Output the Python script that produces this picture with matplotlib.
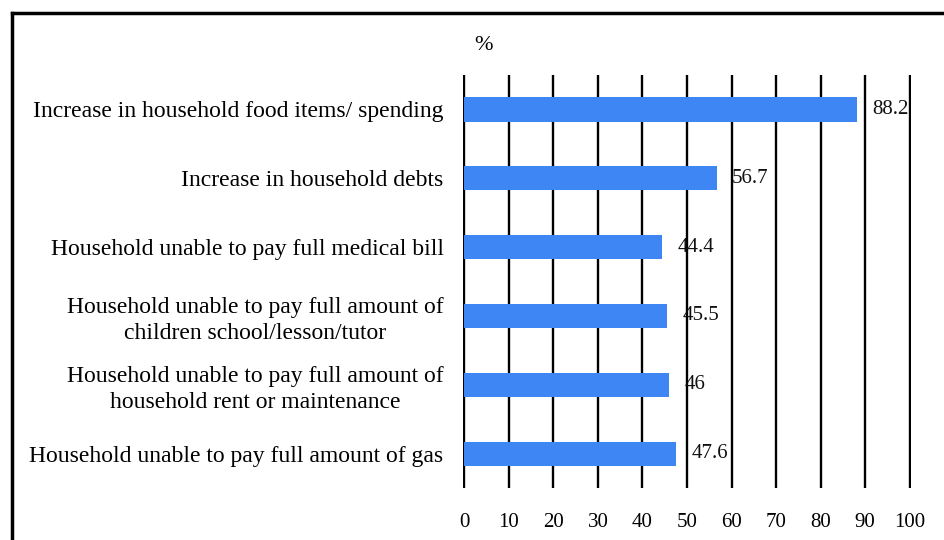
import matplotlib.pyplot as plt
from matplotlib.lines import Line2D

categories = [
    'Increase in household food items/ spending',
    'Increase in household debts',
    'Household unable to pay full medical bill',
    'Household unable to pay full amount of\nchildren school/lesson/tutor',
    'Household unable to pay full amount of\nhousehold rent or maintenance',
    'Household unable to pay full amount of gas',
]
values = [88.2, 56.7, 44.4, 45.5, 46, 47.6]
value_labels = ['88.2', '56.7', '44.4', '45.5', '46', '47.6']
ticks = [0, 10, 20, 30, 40, 50, 60, 70, 80, 90, 100]

plt.rcParams['font.family'] = ['Liberation Serif', 'DejaVu Serif']

fig = plt.figure(figsize=(9.44, 5.4), dpi=100)
ax = fig.add_axes([0.4905, 0.0963, 0.4745, 0.7647])

ypos = list(range(len(categories)))
ax.barh(ypos, values, height=0.35, color='#3F86F5', zorder=3)

for y, v, lab in zip(ypos, values, value_labels):
    ax.annotate(lab, (v, y), xytext=(11, 0), textcoords='offset points',
                ha='left', va='center', fontsize=15, color='#111111', zorder=4)

# vertical grid lines
for t in ticks:
    ax.axvline(t, color='black', linewidth=1.7, zorder=2)

ax.set_xlim(-0.3, 100.3)
ax.set_ylim(len(categories) - 0.5, -0.5)
ax.set_xticks(ticks)
ax.set_xticklabels([str(t) for t in ticks], fontsize=15)
ax.set_yticks(ypos)
ax.set_yticklabels(categories, fontsize=17, multialignment='center', linespacing=1.3)
ax.tick_params(axis='x', length=0, pad=18)
ax.tick_params(axis='y', length=0, pad=14)
for s in ax.spines.values():
    s.set_visible(False)

ax.text(0.045, 1.072, '%', transform=ax.transAxes, fontsize=16, ha='center', va='center')

# outer frame (top and left edges)
fig.add_artist(Line2D([12 / 944, 1.0], [1 - 13 / 540, 1 - 13 / 540],
                      transform=fig.transFigure, color='black', linewidth=2.5))
fig.add_artist(Line2D([12 / 944, 12 / 944], [0.0, 1 - 13 / 540],
                      transform=fig.transFigure, color='black', linewidth=2.5))

fig.savefig('out.png', dpi=100)
